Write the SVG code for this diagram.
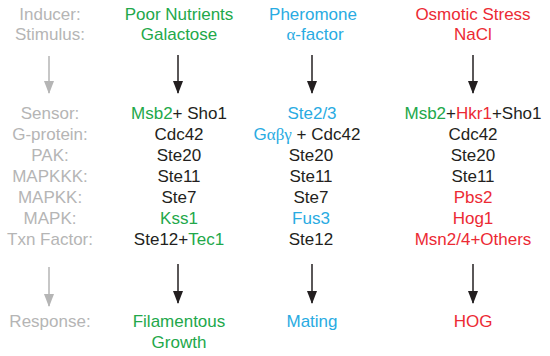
<svg xmlns="http://www.w3.org/2000/svg" width="550" height="356" viewBox="0 0 550 356">
<style>
text{font-family:"Liberation Sans",Arial,sans-serif;font-size:17px;text-anchor:middle;fill:#231f20}
.lab{fill:#b5b5b5}
.g{fill:#22a84a}
.b{fill:#29abe2}
.r{fill:#ec2a34}
.k{fill:#231f20}
.gr{font-family:"Liberation Serif","Times New Roman",serif}
.ar{stroke:#231f20;stroke-width:1.5;fill:none}
.arg{stroke:#b5b5b5;stroke-width:1.5;fill:none}
</style>
<defs>
<marker id="hk" viewBox="0 0 13 10" refX="12" refY="5" markerWidth="13" markerHeight="10" markerUnits="userSpaceOnUse" orient="auto">
<path d="M0,0 L13,5 L0,10 Z" fill="#231f20"/>
</marker>
<marker id="hg" viewBox="0 0 13 10" refX="12" refY="5" markerWidth="13" markerHeight="10" markerUnits="userSpaceOnUse" orient="auto">
<path d="M0,0 L13,5 L0,10 Z" fill="#b5b5b5"/>
</marker>
</defs>
<g id="labels">
<text class="lab" x="50" y="20">Inducer:</text>
<text class="lab" x="50" y="40">Stimulus:</text>
<text class="lab" x="50" y="119">Sensor:</text>
<text class="lab" x="50" y="140">G-protein:</text>
<text class="lab" x="50" y="161">PAK:</text>
<text class="lab" x="50" y="182">MAPKKK:</text>
<text class="lab" x="50" y="203">MAPKK:</text>
<text class="lab" x="50" y="224">MAPK:</text>
<text class="lab" x="50" y="245">Txn Factor:</text>
<text class="lab" x="50" y="327">Response:</text>
</g>
<g id="filamentous">
<text class="g" x="179" y="20">Poor Nutrients</text>
<text class="g" x="179" y="40">Galactose</text>
<text x="179" y="119"><tspan class="g">Msb2</tspan>+ Sho1</text>
<text x="179" y="140">Cdc42</text>
<text x="179" y="161">Ste20</text>
<text x="179" y="182">Ste11</text>
<text x="179" y="203">Ste7</text>
<text class="g" x="179" y="224">Kss1</text>
<text x="179" y="245">Ste12+<tspan class="g">Tec1</tspan></text>
<text class="g" x="179" y="327">Filamentous</text>
<text class="g" x="179" y="348">Growth</text>
</g>
<g id="mating">
<text class="b" x="313" y="20">Pheromone</text>
<text class="b" x="315" y="40"><tspan class="gr">α</tspan>-factor</text>
<text class="b" x="312" y="119">Ste2/3</text>
<text x="307" y="140"><tspan class="b">G</tspan><tspan class="b gr">αβγ</tspan> + Cdc42</text>
<text x="311" y="161">Ste20</text>
<text x="311" y="182">Ste11</text>
<text x="311" y="203">Ste7</text>
<text class="b" x="311" y="224">Fus3</text>
<text x="311" y="245">Ste12</text>
<text class="b" x="312" y="327">Mating</text>
</g>
<g id="hog">
<text class="r" x="473" y="20">Osmotic Stress</text>
<text class="r" x="473" y="40">NaCl</text>
<text x="473" y="119"><tspan class="g">Msb2</tspan>+<tspan class="r">Hkr1</tspan>+Sho1</text>
<text x="473" y="140">Cdc42</text>
<text x="473" y="161">Ste20</text>
<text x="473" y="182">Ste11</text>
<text class="r" x="473" y="203">Pbs2</text>
<text class="r" x="473" y="224">Hog1</text>
<text class="r" x="473" y="245">Msn2/4+Others</text>
<text class="r" x="473" y="327">HOG</text>
</g>
<g id="connectors">
<line class="arg" x1="49" y1="56" x2="49" y2="93" marker-end="url(#hg)"/>
<line class="ar" x1="178" y1="55" x2="178" y2="93" marker-end="url(#hk)"/>
<line class="ar" x1="312" y1="55" x2="312" y2="93" marker-end="url(#hk)"/>
<line class="ar" x1="473" y1="55" x2="473" y2="93" marker-end="url(#hk)"/>
<line class="arg" x1="49" y1="267" x2="49" y2="306" marker-end="url(#hg)"/>
<line class="ar" x1="178" y1="264" x2="178" y2="303" marker-end="url(#hk)"/>
<line class="ar" x1="312" y1="264" x2="312" y2="303" marker-end="url(#hk)"/>
<line class="ar" x1="473" y1="264" x2="473" y2="303" marker-end="url(#hk)"/>
</g>
</svg>
